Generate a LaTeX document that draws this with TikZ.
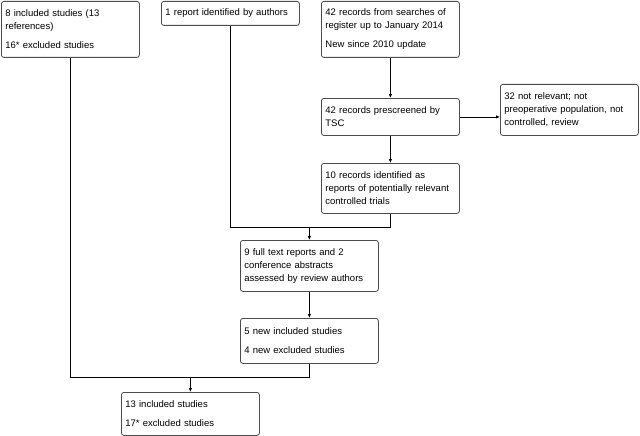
\documentclass[tikz,border=0pt]{standalone}
\usepackage{fontspec}
\setmainfont{Liberation Sans}
\usetikzlibrary{arrows.meta}
\begin{document}
\begin{tikzpicture}[x=1pt,y=-1pt,
  box/.style={draw=black!70, rounded corners=2.5pt, anchor=north west,
    text width=130pt, inner xsep=4pt, align=left,
    font=\fontsize{9.5}{13}\selectfont},
  arr/.style={-{Latex[length=4pt,width=3.5pt]}},
  line width=0.8pt]
  \useasboundingbox (0,0) rectangle (640,436);
  % Sources
  \node[box, minimum height=56pt] (prev) at (1,1) {8 included studies (13\\references)\\[6pt]16* excluded studies};
  \node[box, minimum height=24pt] (authors) at (161,1) {1 report identified by authors};
  \node[box, minimum height=56pt] (search) at (321,1) {42 records from searches of\\register up to January 2014\\[6pt]New since 2010 update};
  % Screening
  \node[box, minimum height=37pt] (prescreen) at (321,98) {42 records prescreened by\\TSC};
  \node[box, minimum height=51pt] (notrel) at (500,84) {32 not relevant; not\\preoperative population, not\\controlled, review};
  \node[box, minimum height=50pt] (relevant) at (321,163) {10 records identified as\\reports of potentially relevant\\controlled trials};
  % Assessment
  \node[box, minimum height=51pt] (fulltext) at (240,240) {9 full text reports and 2\\conference abstracts\\assessed by review authors};
  \node[box, minimum height=45pt] (newstud) at (240,318) {5 new included studies\\[6pt]4 new excluded studies};
  \node[box, minimum height=43pt] (total) at (121,392) {13 included studies\\[6pt]17* excluded studies};
  % Joins
  \coordinate (join1) at ([yshift=13pt]fulltext.north);
  \coordinate (join2) at ([yshift=15pt]total.north);
  % Connectors
  \draw[arr] (search) -- (prescreen);
  \draw[arr] (prescreen.east) -- (notrel.west |- prescreen.east);
  \draw[arr] (prescreen) -- (relevant);
  \draw (authors.south) |- (join1);
  \draw (relevant.south) |- (join1);
  \draw[arr] (join1) -- (fulltext.north);
  \draw[arr] (fulltext) -- (newstud);
  \draw (prev.south) |- (join2);
  \draw (newstud.south) |- (join2);
  \draw[arr] (join2) -- (total.north);
\end{tikzpicture}
\end{document}
